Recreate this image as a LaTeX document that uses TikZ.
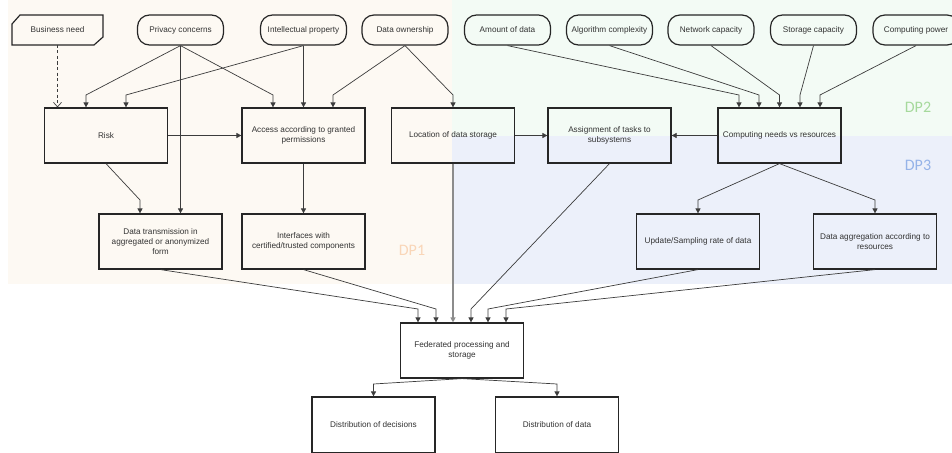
\documentclass[tikz,border=0pt]{standalone}
\usepackage{fontspec}
\setmainfont{Liberation Sans}
\newfontfamily\dpfont{Carlito}
\usetikzlibrary{arrows.meta,calc}
\definecolor{bgone}{HTML}{FDF9F3}
\definecolor{bgtwo}{HTML}{F3FBF5}
\definecolor{bgthree}{HTML}{ECF0FA}
\definecolor{dpone}{HTML}{F9D6B8}
\definecolor{dptwo}{HTML}{A6D99C}
\definecolor{dpthree}{HTML}{95B3E8}
\definecolor{ink}{HTML}{333333}
\definecolor{wire}{HTML}{3C3C3C}
\begin{document}
\begin{tikzpicture}[x=1pt,y=-1pt,
  every node/.style={font=\fontsize{8.2}{10}\selectfont, text=ink, align=center, inner sep=0pt},
  box/.style={draw=black!85, line width=1.2pt, minimum width=123pt, minimum height=55pt},
  pill/.style={draw=black!85, line width=1.2pt, rounded corners=12pt, minimum width=86pt, minimum height=30pt},
  arr/.style={draw=wire, line width=0.7pt, -{Triangle[length=5pt,width=5pt]}},
  dparr/.style={draw=wire, line width=0.7pt, dashed, dash pattern=on 3pt off 2.5pt, -{Straight Barb[length=4.5pt,width=8pt]}},
  dplabel/.style={font=\dpfont\fontsize{16}{18}\selectfont}]
\useasboundingbox (0,0) rectangle (952,452);

% design-parameter regions
\fill[white] (0,0) rectangle (952,452);
\fill[bgone] (8,0) rectangle (452,284);
\fill[bgtwo] (452,0) rectangle (952,136);
\fill[bgthree] (452,136) rectangle (952,284);
\node[dplabel, text=dpone] (dp1) at (412,250) {DP1};
\node[dplabel, text=dptwo] (dp2) at (918,107) {DP2};
\node[dplabel, text=dpthree] (dp3) at (918,165) {DP3};

% inputs
\draw[draw=black!85, line width=1.2pt] (20,15) -- (103,15) -- (103,37) -- (94,45) -- (12,45) -- (12,24) -- cycle;
\node (biz) at (57.5,30) {Business need};
\coordinate (bizs) at (57.5,45);
\node[pill] (priv) at (180.5,30) {Privacy concerns};
\node[pill] (ip) at (303.5,30) {Intellectual property};
\node[pill] (own) at (405,30) {Data ownership};
\node[pill] (amt) at (507.5,30) {Amount of data};
\node[pill] (algo) at (609.5,30) {Algorithm complexity};
\node[pill] (net) at (711,30) {Network capacity};
\node[pill] (stor) at (813.5,30) {Storage capacity};
\node[pill] (cpu) at (916,30) {Computing power};

% second row
\node[box] (risk) at (106,135.5) {Risk};
\node[box] (access) at (303.5,135.5) {Access according to granted\\permissions};
\node[box] (loc) at (453,135.5) {Location of data storage};
\node[box] (assign) at (609.5,135.5) {Assignment of tasks to\\subsystems};
\node[box] (comp) at (779.5,135.5) {Computing needs vs resources};

% third row
\node[box] (trans) at (160.5,241.5) {Data transmission in\\aggregated or anonymized\\form};
\node[box] (iface) at (303.5,241.5) {Interfaces with\\certified/trusted components};
\node[box] (rate) at (698,241.5) {Update/Sampling rate of data};
\node[box] (aggr) at (875,241.5) {Data aggregation according to\\resources};

% outputs
\node[box] (fed) at (462,350.5) {Federated processing and\\storage};
\node[box, minimum height=56pt] (dec) at (373.5,425) {Distribution of decisions};
\node[box, minimum height=56pt] (ddata) at (557,425) {Distribution of data};

% connectors into the second row
\draw[dparr] (bizs) -- (risk.north -| 57.5,0);
\draw[arr] (priv.south) -- (86,95) -- (risk.north -| 86,0);
\draw[arr] (ip.south) -- (126,95) -- (risk.north -| 126,0);
\draw[arr] (priv.south) -- (273,95) -- (access.north -| 273,0);
\draw[arr] (ip.south) -- (access.north);
\draw[arr] (own.south) -- (333,95) -- (access.north -| 333,0);
\draw[arr] (own.south) -- (453,95) -- (loc.north);
\draw[arr] (amt.south) -- (739,95) -- (comp.north -| 739,0);
\draw[arr] (algo.south) -- (759,95) -- (comp.north -| 759,0);
\draw[arr] (net.south) -- (779.5,95) -- (comp.north);
\draw[arr] (stor.south) -- (800,95) -- (comp.north -| 800,0);
\draw[arr] (cpu.south) -- (820,95) -- (comp.north -| 820,0);

% horizontal links
\draw[arr] (risk.east) -- (access.west);
\draw[arr] (loc.east) -- (assign.west);
\draw[arr] (comp.west) -- (assign.east);

% connectors into the third row
\draw[arr] (priv.south) -- (trans.north -| 180.5,0);
\draw[arr] (risk.south) -- (140,200) -- (trans.north -| 140,0);
\draw[arr] (access.south) -- (iface.north);
\draw[arr] (comp.south) -- (698,200) -- (rate.north);
\draw[arr] (comp.south) -- (875,200) -- (aggr.north);

% connectors into federated processing
\draw[arr] (trans.south) -- (418,309) -- (fed.north -| 418,0);
\draw[arr] (iface.south) -- (436,309) -- (fed.north -| 436,0);
\draw[arr, draw=black!45, line width=1.3pt] (loc.south) -- (fed.north -| 453,0);
\draw[arr] (assign.south) -- (471,309) -- (fed.north -| 471,0);
\draw[arr] (rate.south) -- (488,309) -- (fed.north -| 488,0);
\draw[arr] (aggr.south) -- (506,309) -- (fed.north -| 506,0);

% distribution
\draw[arr] (fed.south) -- (373.5,384) -- (dec.north);
\draw[arr] (fed.south) -- (557,384) -- (ddata.north);
\end{tikzpicture}
\end{document}
